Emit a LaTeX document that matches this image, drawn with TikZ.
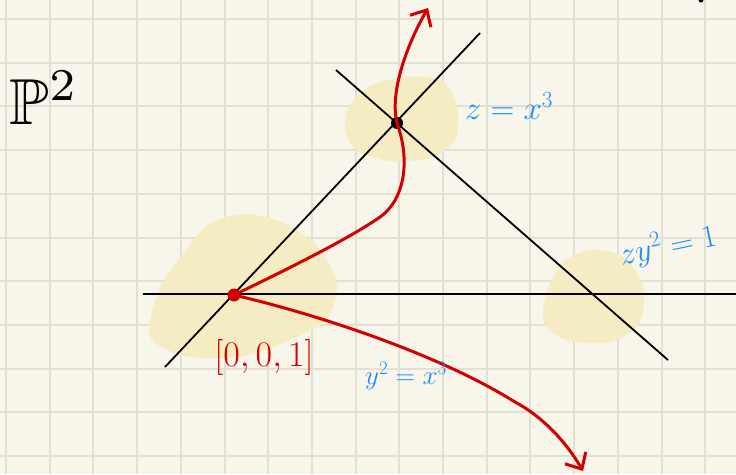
\documentclass[tikz,border=0pt]{standalone}
\usepackage{fix-cm}
\usepackage{amsmath,amssymb}
\usetikzlibrary{arrows.meta}
\definecolor{PaperCream}{HTML}{F8F6EA}
\definecolor{PaperGrid}{HTML}{E3E0D2}
\definecolor{MarkerYellow}{HTML}{F5ECC3}
\definecolor{InkRed}{HTML}{D40000}
\definecolor{InkBlue}{HTML}{1A8CFF}

\begin{document}
\begin{tikzpicture}[
    x=1pt,y=-1pt,
    gridline/.style={PaperGrid,line width=2pt},
    blob/.style={fill=MarkerYellow,draw=none},
    axis/.style={black,line width=1.8pt},
    curve/.style={InkRed,line width=3pt,line cap=round,line join=round,-{Straight Barb[length=13pt,width=24pt]}},
    dot/.style={circle,fill=black,inner sep=0pt,minimum size=12pt},
    reddot/.style={circle,fill=InkRed,inner sep=0pt,minimum size=13pt},
    lbl/.style={text=InkBlue,inner sep=0pt}
  ]
    \fill[PaperCream] (0,0) rectangle (736,474);
    \useasboundingbox (0,0) rectangle (736,474);
    \foreach \gx in {0,...,16} \draw[gridline] ({6+43.7*\gx},0) -- ({6+43.7*\gx},474);
    \foreach \gy in {0,...,10} \draw[gridline] (0,{19+43.7*\gy}) -- (736,{19+43.7*\gy});

    \fill[blob] plot[smooth cycle] coordinates {(350,105) (372,85) (405,77) (440,80) (457,105) (455,140) (430,158) (390,161) (356,150) (345,128)};
    \fill[blob] plot[smooth cycle] coordinates {(160,288) (185,252) (208,225) (242,214) (282,222) (317,246) (337,284) (326,320) (290,340) (240,357) (185,356) (150,336)};
    \fill[blob] plot[smooth cycle] coordinates {(545,298) (561,264) (591,250) (625,258) (644,290) (638,325) (610,342) (570,341) (545,325)};

    \coordinate (diagA) at (165,367);
    \coordinate (diagB) at (480,33);
    \coordinate (antiA) at (336,70);
    \coordinate (antiB) at (668,360);
    \coordinate (horA) at (143,294);
    \coordinate (horB) at (736,294);
    \coordinate (bend) at (380,217);
    \coordinate (uptip) at (428,8);
    \coordinate (sweep) at (515,402);
    \coordinate (downtip) at (583,471);

    \draw[axis] (horA) -- (horB);
    \draw[axis] (diagA) -- (diagB);
    \draw[axis] (antiA) -- (antiB);

    \node[dot] (apex) at (397,123) {};
    \node[reddot] (origin) at (234,295) {};
    \node[circle,fill=black,inner sep=0pt,minimum size=5pt] (corner) at (701,0) {};

    \draw[curve] (origin.center) .. controls (290,268) and (350,238) .. (bend)
      .. controls (402,202) and (412,165) .. (apex.center)
      .. controls (390,95) and (404,50) .. (uptip);
    \draw[curve] (origin.center) .. controls (320,315) and (440,355) .. (sweep)
      .. controls (545,418) and (568,445) .. (downtip);

    \node[scale=6.5] (lblplane) at (44,98) {$\mathbb{P}^2$};
    \node[lbl] (lblcusp) at (509,106) {\fontsize{33}{36}\selectfont$z=x^3$};
    \node[lbl,rotate=12] (lblconic) at (668,246) {\fontsize{32}{36}\selectfont$zy^2=1$};
    \node[lbl] (lblcurve) at (406,376) {\fontsize{27}{30}\selectfont$y^2=x^3$};
    \node[lbl,text=InkRed] (lblorigin) at (264,357) {\fontsize{36}{40}\selectfont$[0,0,1]$};
  \end{tikzpicture}
\end{document}
